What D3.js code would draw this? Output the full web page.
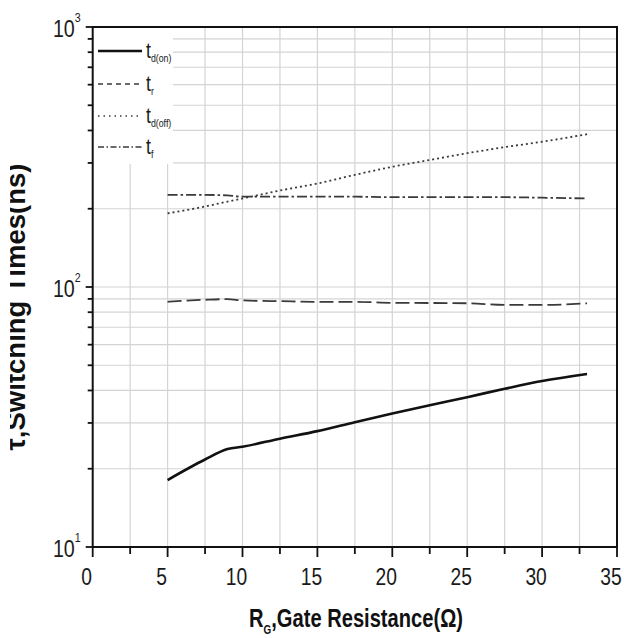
<!DOCTYPE html>
<html><head><meta charset="utf-8">
<script src="https://cdn.jsdelivr.net/npm/d3@7"></script>
<style>html,body{margin:0;padding:0;background:#fff;}svg{display:block;font-family:"Liberation Sans",Arial,sans-serif;}</style>
</head><body>
<svg id="c" width="624" height="638"></svg>
<script>
// ---- data ----
const rg      = [5, 7.5, 9, 10, 12.5, 15, 17.5, 20, 22.5, 25, 27.5, 30, 33];
const tdOn    = [18.1, 21.7, 23.8, 24.3, 26.1, 27.9, 30.2, 32.6, 35.1, 37.7, 40.6, 43.5, 46.3];
const tR      = [87.7, 89.3, 89.8, 88.8, 88.2, 87.7, 87.7, 86.9, 86.8, 86.6, 85.3, 85.3, 86.5];
const tdOff   = [192, 204, 213, 219, 235, 250, 270, 290, 308, 327, 345, 362, 387];
const tF      = [226, 226, 225, 222.5, 222.5, 222.5, 222.5, 221.5, 221.5, 221.5, 221.5, 220.5, 219];
const xTicks  = [0, 5, 10, 15, 20, 25, 30, 35];
const xMinor  = [2.5, 7.5, 12.5, 17.5, 22.5, 27.5, 32.5];
const yMajor  = [10, 100, 1000];
const yExp    = ["1", "2", "3"];
const seriesNames = ["d(on)", "r", "d(off)", "f"];
const xTitle = ["R", "G", ",Gate Resistance(Ω)"];
const yTitle = "τ,Switching Times(ns)";

// ---- layout ----
const L = 92.7, R = 617, T = 27, B = 547;
const svg = d3.select("#c");
const x = d3.scaleLinear().domain([0, 35]).range([L, R]);
const y = d3.scaleLog().domain([10, 1000]).range([B, T]);
const yMinor = [];
[10, 100].forEach(d => { for (let k = 2; k <= 9; k++) yMinor.push(d * k); });

// grid
const grid = svg.append("g").attr("stroke", "#d4d4d4").attr("stroke-width", 1.2);
xMinor.concat(xTicks.slice(1, -1)).forEach(v => {
  grid.append("line").attr("x1", x(v)).attr("x2", x(v)).attr("y1", T).attr("y2", B);
});
yMinor.concat([100]).forEach(v => {
  grid.append("line").attr("x1", L).attr("x2", R).attr("y1", y(v)).attr("y2", y(v));
});

// legend background (covers grid)
svg.append("rect").attr("x", L + 1).attr("y", T + 1).attr("width", 172 - L).attr("height", 163 - T).attr("fill", "#fff");

// series
const line = d3.line().x((d, i) => x(rg[i])).y(d => y(d)).curve(d3.curveMonotoneX);
const styles = [
  {data: tdOn,  dash: null,          w: 2.6, c: "#111", ldash: null},
  {data: tR,    dash: "14,5",        w: 1.8, c: "#3a3a3a", ldash: "5,4"},
  {data: tdOff, dash: "2,3",         w: 1.8, c: "#3a3a3a", ldash: "1.5,4"},
  {data: tF,    dash: "10,3,2.5,3",  w: 1.8, c: "#3a3a3a", ldash: "6,2.5,1.5,2.5"}
];
styles.forEach(s => {
  svg.append("path").attr("d", line(s.data)).attr("fill", "none")
    .attr("stroke", s.c).attr("stroke-width", s.w)
    .attr("stroke-dasharray", s.dash);
});

// axes
const xAxis = d3.axisBottom(x).tickValues(xTicks.concat(xMinor)).tickSizeOuter(0)
  .tickSize(0).tickFormat("");
const gx = svg.append("g").attr("transform", `translate(0,${B})`).call(xAxis);
gx.select(".domain").remove();
const tickG = svg.append("g").attr("stroke", "#111").attr("stroke-width", 1.8);
xTicks.forEach(v => tickG.append("line").attr("x1", x(v)).attr("x2", x(v)).attr("y1", B).attr("y2", B + 10));
xMinor.forEach(v => tickG.append("line").attr("x1", x(v)).attr("x2", x(v)).attr("y1", B).attr("y2", B + 7));
yMajor.forEach(v => tickG.append("line").attr("x1", L - 7).attr("x2", L).attr("y1", y(v)).attr("y2", y(v)));
yMinor.forEach(v => tickG.append("line").attr("x1", L - 5).attr("x2", L).attr("y1", y(v)).attr("y2", y(v)));

// x tick labels
xTicks.forEach(v => {
  svg.append("g").attr("transform", `translate(${x(v) - 6},585) scale(0.82,1)`)
    .append("text").attr("text-anchor", "middle").attr("font-size", 23.5).attr("fill", "#1a1a1a").text(v);
});
// y tick labels
yMajor.forEach((v, i) => {
  const t = svg.append("g").attr("transform", `translate(${L - 12},${y(v) + 10}) scale(0.82,1)`)
    .append("text").attr("text-anchor", "end").attr("font-size", 24).attr("fill", "#1a1a1a");
  t.append("tspan").text("10");
  t.append("tspan").attr("font-size", 13).attr("dy", -15).text(yExp[i]);
});

// frame
svg.append("rect").attr("x", L).attr("y", T).attr("width", R - L).attr("height", B - T)
  .attr("fill", "none").attr("stroke", "#111").attr("stroke-width", 2);

// legend
const rowsY = [51, 84, 116, 147];
styles.forEach((s, i) => {
  svg.append("line").attr("x1", 98).attr("x2", 142).attr("y1", rowsY[i]).attr("y2", rowsY[i])
    .attr("stroke", s.c).attr("stroke-width", i === 0 ? 2.4 : 1.6).attr("stroke-dasharray", s.ldash);
  const t = svg.append("g").attr("transform", `translate(146,${rowsY[i] + 7}) scale(0.8,1)`)
    .append("text").attr("font-size", 22).attr("fill", "#1a1a1a");
  t.append("tspan").text("t");
  t.append("tspan").attr("font-size", 11).attr("dy", 4).text(seriesNames[i]);
});

// x title
const xt = svg.append("g").attr("transform", "translate(356,627) scale(0.76,1)")
  .append("text").attr("text-anchor", "middle").attr("font-size", 26.5).attr("font-weight", "bold").attr("fill", "#111");
xt.append("tspan").text(xTitle[0]);
xt.append("tspan").attr("font-size", 13).attr("dy", 7).text(xTitle[1]);
xt.append("tspan").attr("dy", -7).text(xTitle[2]);

// y title (clipped at left like the reference)
svg.append("clipPath").attr("id", "yclip").append("rect").attr("x", 10).attr("y", 0).attr("width", 60).attr("height", 638);
svg.append("g").attr("clip-path", "url(#yclip)")
  .append("text").attr("transform", "translate(25,307) rotate(-90)")
  .attr("text-anchor", "middle").attr("font-size", 27.5).attr("font-weight", "bold").attr("fill", "#111")
  .text(yTitle);
</script>
</body></html>
